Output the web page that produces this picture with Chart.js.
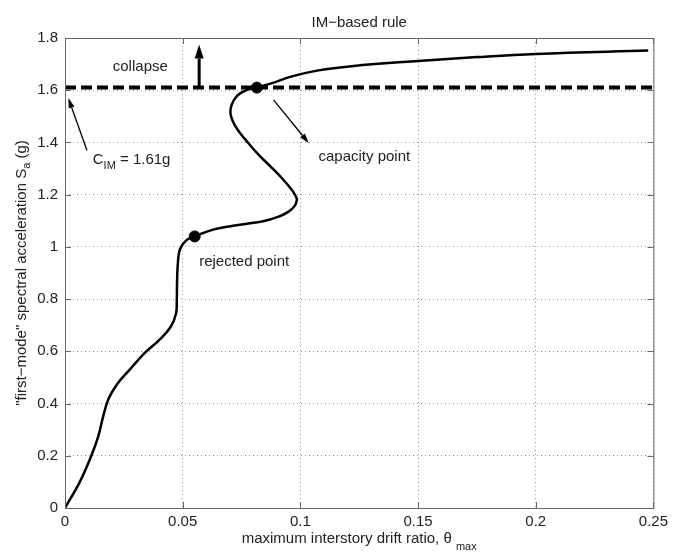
<!DOCTYPE html>
<html>
<head>
<meta charset="utf-8">
<script src="https://cdn.jsdelivr.net/npm/chart.js"></script>
<style>
  html, body { margin: 0; padding: 0; background: #fff; }
  #wrap { width: 673px; height: 554px; }
</style>
</head>
<body>
<div id="wrap"><canvas id="idaChart" width="673" height="554"></canvas></div>
<script>
// IDA curve: maximum interstory drift ratio vs. first-mode Sa (g)
const driftRatio = [0, 0.0063, 0.0113, 0.0141, 0.0162, 0.0185, 0.0222, 0.0276, 0.0338,
  0.0401, 0.045, 0.0472, 0.0475, 0.0476, 0.0479, 0.0488, 0.0515, 0.0551, 0.0626, 0.0697,
  0.0767, 0.0837, 0.0908, 0.095, 0.0976, 0.0985, 0.0981, 0.0964, 0.0922, 0.088, 0.0823,
  0.0767, 0.0725, 0.0704, 0.0708, 0.0732, 0.0767, 0.0815, 0.088, 0.0964, 0.1077, 0.1218,
  0.15, 0.175, 0.2, 0.2478];
const spectralAccel = [0, 0.1, 0.203, 0.273, 0.35, 0.418, 0.475, 0.531, 0.593,
  0.644, 0.695, 0.746, 0.797, 0.86, 0.93, 0.99, 1.025, 1.04, 1.065, 1.078,
  1.088, 1.097, 1.116, 1.135, 1.157, 1.18, 1.193, 1.218, 1.263, 1.302, 1.352,
  1.41, 1.461, 1.506, 1.544, 1.579, 1.599, 1.61, 1.627, 1.653, 1.676, 1.692,
  1.712, 1.727, 1.739, 1.752];

// marked points: rejected point, capacity point
const markX = [0.0551, 0.0815];
const markY = [1.04, 1.61];

// IM-based capacity
const capacityIM = 1.61;

const xTicks = { min: 0, max: 0.25, step: 0.05 };
const yTicks = { min: 0, max: 1.8, step: 0.2 };

const FONT = '"Liberation Sans", Arial, Helvetica, sans-serif';
const TEXT = '#222';

function toPoints(xs, ys) {
  return xs.map((x, i) => ({ x: x, y: ys[i] }));
}

function drawArrow(ctx, x1, y1, x2, y2, lw, headLen, headW) {
  const ang = Math.atan2(y2 - y1, x2 - x1);
  const bx = x2 - headLen * Math.cos(ang);
  const by = y2 - headLen * Math.sin(ang);
  ctx.save();
  ctx.strokeStyle = '#000';
  ctx.fillStyle = '#000';
  ctx.lineWidth = lw;
  ctx.beginPath();
  ctx.moveTo(x1, y1);
  ctx.lineTo(bx, by);
  ctx.stroke();
  ctx.beginPath();
  ctx.moveTo(x2, y2);
  ctx.lineTo(bx + headW / 2 * Math.sin(ang), by - headW / 2 * Math.cos(ang));
  ctx.lineTo(bx - headW / 2 * Math.sin(ang), by + headW / 2 * Math.cos(ang));
  ctx.closePath();
  ctx.fill();
  ctx.restore();
}

// text with a lowered subscript piece
function subText(ctx, parts, x, y) {
  let cx = x;
  parts.forEach(p => {
    ctx.font = (p.size || 15) + 'px ' + FONT;
    ctx.fillText(p.t, cx, y + (p.dy || 0));
    cx += ctx.measureText(p.t).width;
  });
}
function partsWidth(ctx, parts) {
  let w = 0;
  parts.forEach(p => {
    ctx.font = (p.size || 15) + 'px ' + FONT;
    w += ctx.measureText(p.t).width;
  });
  return w;
}

const matlabFrame = {
  id: 'matlabFrame',
  afterDraw(chart) {
    const { ctx, chartArea: a, scales: { x, y } } = chart;
    ctx.save();
    // axes box + inward ticks
    ctx.strokeStyle = '#666';
    ctx.lineWidth = 1;
    ctx.strokeRect(a.left + 0.5, a.top + 0.5, a.right - a.left, a.bottom - a.top);
    ctx.beginPath();
    x.ticks.forEach(t => {
      const px = Math.round(x.getPixelForValue(t.value)) + 0.5;
      ctx.moveTo(px, a.bottom); ctx.lineTo(px, a.bottom - 6);
      ctx.moveTo(px, a.top); ctx.lineTo(px, a.top + 6);
    });
    y.ticks.forEach(t => {
      const py = Math.round(y.getPixelForValue(t.value)) + 0.5;
      ctx.moveTo(a.left, py); ctx.lineTo(a.left + 6, py);
      ctx.moveTo(a.right, py); ctx.lineTo(a.right - 6, py);
    });
    ctx.stroke();

    const X = v => x.getPixelForValue(v);
    const Y = v => y.getPixelForValue(v);
    const cx = (a.left + a.right) / 2;

    // title
    ctx.fillStyle = TEXT;
    ctx.textAlign = 'center';
    ctx.textBaseline = 'alphabetic';
    ctx.font = '15px ' + FONT;
    ctx.fillText('IM\u2212based rule', cx, 27);

    // annotations
    drawArrow(ctx, X(0.057), Y(capacityIM), X(0.057), Y(1.775), 3, 14, 9);
    drawArrow(ctx, X(0.0093), Y(1.37), X(0.0014), Y(1.57), 1.3, 10, 6);
    drawArrow(ctx, X(0.0886), Y(1.563), X(0.1036), Y(1.397), 1.3, 10, 6);

    ctx.fillStyle = TEXT;
    ctx.textBaseline = 'middle';
    ctx.textAlign = 'left';
    ctx.font = '15px ' + FONT;
    ctx.fillText('collapse', X(0.0203), Y(1.69));
    ctx.fillText('capacity point', X(0.1077), Y(1.346));
    ctx.fillText('rejected point', X(0.057), Y(0.9425));
    subText(ctx, [
      { t: 'C' },
      { t: 'IM', size: 11, dy: 6 },
      { t: ' = 1.61g' }
    ], X(0.0118), Y(1.333));

    // axis titles
    const xParts = [
      { t: 'maximum interstory drift ratio, \u03b8 ' },
      { t: 'max', size: 11, dy: 8 }
    ];
    subText(ctx, xParts, cx - partsWidth(ctx, xParts) / 2, 539);

    const yParts = [
      { t: '"first\u2212mode" spectral acceleration S' },
      { t: 'a', size: 11, dy: 5 },
      { t: ' (g)' }
    ];
    ctx.save();
    ctx.translate(22, (a.top + a.bottom) / 2);
    ctx.rotate(-Math.PI / 2);
    subText(ctx, yParts, -partsWidth(ctx, yParts) / 2, 0);
    ctx.restore();

    ctx.restore();
  }
};

const gridStyle = {
  color: '#999',
  lineWidth: 1,
  drawTicks: false
};

// plain numbers like 0.1, 1, 0.05
const tickText = v => String(+Number(v).toFixed(3));

new Chart(document.getElementById('idaChart'), {
  type: 'scatter',
  data: {
    datasets: [
      {
        label: 'IDA curve',
        data: toPoints(driftRatio, spectralAccel),
        showLine: true,
        borderColor: '#000',
        borderWidth: 2.5,
        tension: 0.4,
        pointRadius: 0,
        order: 2
      },
      {
        label: 'C_IM',
        data: toPoints([xTicks.min, xTicks.max], [capacityIM, capacityIM]),
        showLine: true,
        borderColor: '#000',
        borderWidth: 4,
        borderDash: [11, 5],
        borderCapStyle: 'butt',
        pointRadius: 0,
        order: 3
      },
      {
        label: 'points',
        data: toPoints(markX, markY),
        showLine: false,
        pointRadius: 5.5,
        pointBackgroundColor: '#000',
        pointBorderColor: '#000',
        order: 1
      }
    ]
  },
  options: {
    responsive: false,
    animation: false,
    layout: { padding: { left: 0, right: 16, top: 38, bottom: 0 } },
    plugins: {
      legend: { display: false },
      tooltip: { enabled: false },
      title: { display: false }
    },
    scales: {
      x: {
        type: 'linear',
        min: xTicks.min,
        max: xTicks.max,
        grid: Object.assign({}, gridStyle),
        border: { display: false, dash: [1, 3] },
        ticks: {
          stepSize: xTicks.step,
          padding: 5,
          color: TEXT,
          font: { family: FONT, size: 15 },
          callback: tickText
        },
        afterFit(scale) { scale.height = 46; }
      },
      y: {
        type: 'linear',
        min: yTicks.min,
        max: yTicks.max,
        grid: Object.assign({}, gridStyle),
        border: { display: false, dash: [1, 3] },
        ticks: {
          stepSize: yTicks.step,
          padding: 7,
          color: TEXT,
          font: { family: FONT, size: 15 },
          callback: tickText
        },
        afterFit(scale) { scale.width = 65; }
      }
    }
  },
  plugins: [matlabFrame]
});
</script>
</body>
</html>
